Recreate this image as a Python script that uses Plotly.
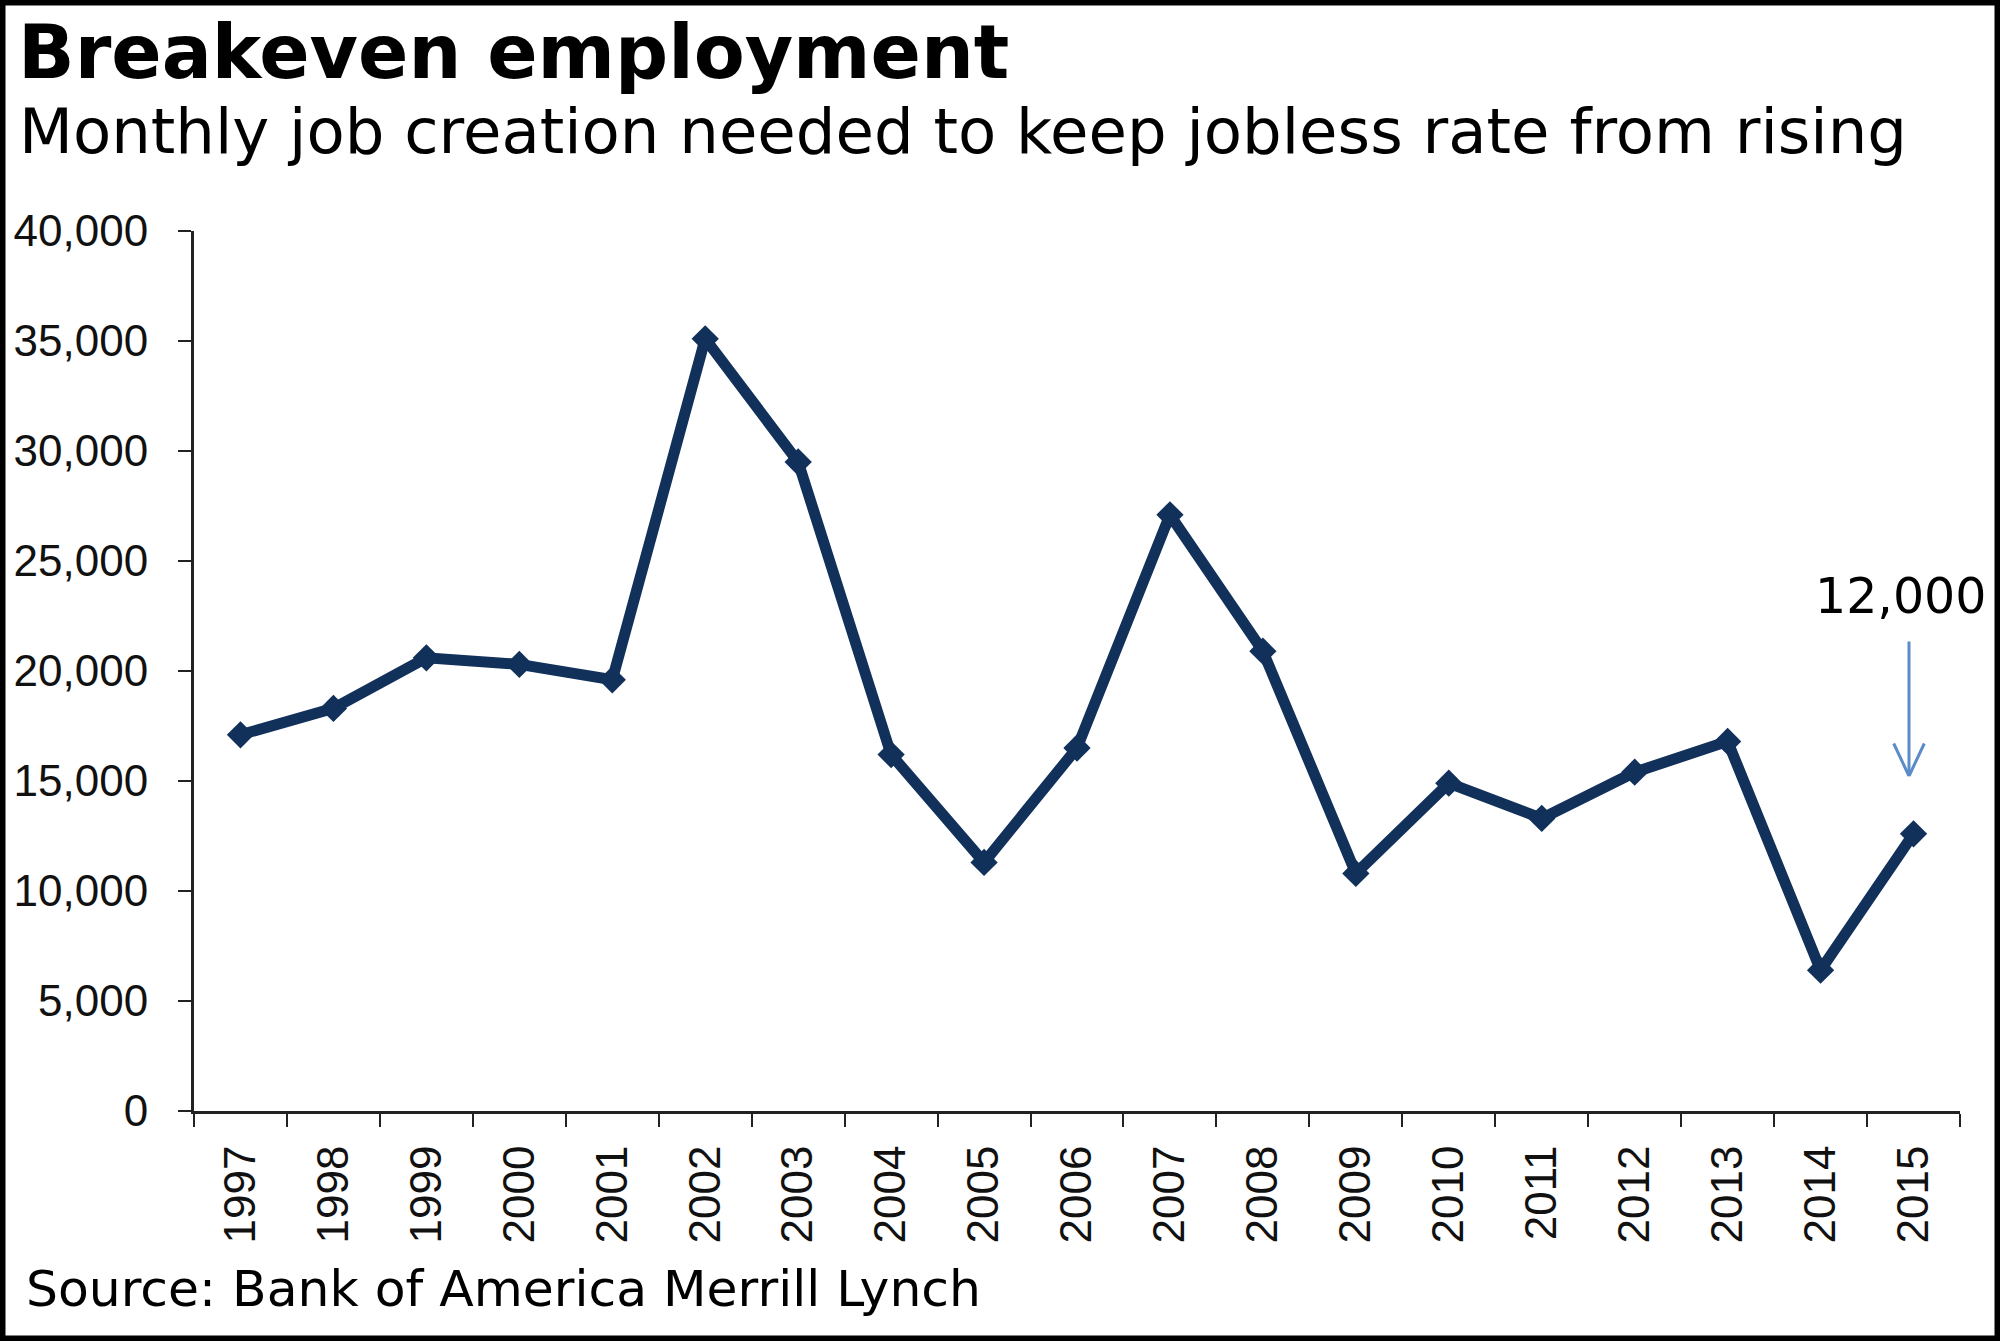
import plotly.graph_objects as go

years = ["1997", "1998", "1999", "2000", "2001", "2002", "2003", "2004", "2005", "2006",
         "2007", "2008", "2009", "2010", "2011", "2012", "2013", "2014", "2015"]
breakeven = [17100, 18300, 20600, 20300, 19600, 35100, 29500, 16200, 11300, 16500,
             27100, 20900, 10800, 14900, 13300, 15400, 16800, 6400, 12600]
y_ticks = [0, 5000, 10000, 15000, 20000, 25000, 30000, 35000, 40000]
y_tick_text = ["0", "5,000", "10,000", "15,000", "20,000", "25,000", "30,000", "35,000", "40,000"]

title_text = "<b>Breakeven employment</b>"
subtitle_text = "Monthly job creation needed to keep jobless rate from rising"
source_text = "Source: Bank of America Merrill Lynch"
callout_text = "12,000"

W, H = 2000, 1341
L, R, T, B = 194, 40, 231, 230
PW, PH = W - L - R, H - T - B


def px(x):
    return (x - L) / PW


def py(y):
    return (H - B - y) / PH


LINE_COLOR = "#11305A"
ARROW_COLOR = "#5B8BC8"
TICK_FONT = dict(family="Liberation Sans, Arial", size=44, color="#111111")

fig = go.Figure()
fig.add_trace(go.Scatter(
    x=years, y=breakeven, mode="lines+markers",
    line=dict(color=LINE_COLOR, width=11),
    marker=dict(symbol="diamond", size=21, color=LINE_COLOR),
    showlegend=False, hoverinfo="x+y",
))

annotations = [
    dict(text=title_text, x=px(16), y=py(52), xref="paper", yref="paper",
         xanchor="left", yanchor="middle", showarrow=False,
         font=dict(family="DejaVu Sans", size=74.3, color="#000000")),
    dict(text=subtitle_text, x=px(17), y=py(131), xref="paper", yref="paper",
         xanchor="left", yanchor="middle", showarrow=False,
         font=dict(family="DejaVu Sans", size=62.5, color="#000000")),
    dict(text=source_text, x=px(24), y=py(1288), xref="paper", yref="paper",
         xanchor="left", yanchor="middle", showarrow=False,
         font=dict(family="DejaVu Sans", size=50.4, color="#000000")),
    dict(text=callout_text, x=px(1900), y=py(596), xref="paper", yref="paper",
         xanchor="center", yanchor="middle", showarrow=False,
         font=dict(family="DejaVu Sans", size=49, color="#000000")),
]
# arrow shaft and open V head
for ax, ay in [(0, -136), (-16, -34), (16, -34)]:
    annotations.append(dict(
        text="", x=px(1909), y=py(776), xref="paper", yref="paper",
        ax=ax, ay=ay, axref="pixel", ayref="pixel", showarrow=True,
        arrowhead=0, arrowwidth=3, arrowcolor=ARROW_COLOR,
        standoff=0, startstandoff=0,
    ))

fig.update_layout(
    template="none",
    width=W, height=H,
    margin=dict(l=L, r=R, t=T, b=B, pad=0, autoexpand=False),
    paper_bgcolor="white", plot_bgcolor="white",
    annotations=annotations,
    shapes=[dict(type="rect", xref="paper", yref="paper",
                 x0=px(0), x1=px(W), y0=py(H), y1=py(0),
                 line=dict(color="black", width=11), fillcolor="rgba(0,0,0,0)",
                 layer="above")],
    xaxis=dict(
        type="category", tickson="boundaries", ticks="outside", ticklen=13,
        tickwidth=2, tickcolor="#222222", showline=True, linecolor="#222222", linewidth=3,
        tickangle=-90, tickfont=TICK_FONT, showgrid=False, zeroline=False,
        ticklabelstandoff=14, range=[-0.5, len(years) - 0.5], automargin=False,
    ),
    yaxis=dict(
        range=[0, 40000], tickvals=y_ticks, ticktext=y_tick_text,
        ticks="outside", ticklen=13, tickwidth=2, tickcolor="#222222",
        showline=True, linecolor="#222222", linewidth=3,
        tickfont=TICK_FONT, showgrid=False, zeroline=False,
        ticklabelstandoff=21, automargin=False,
    ),
)

fig.write_html("out.html", config={"displayModeBar": False},
               post_script="document.body.style.margin='0';")
